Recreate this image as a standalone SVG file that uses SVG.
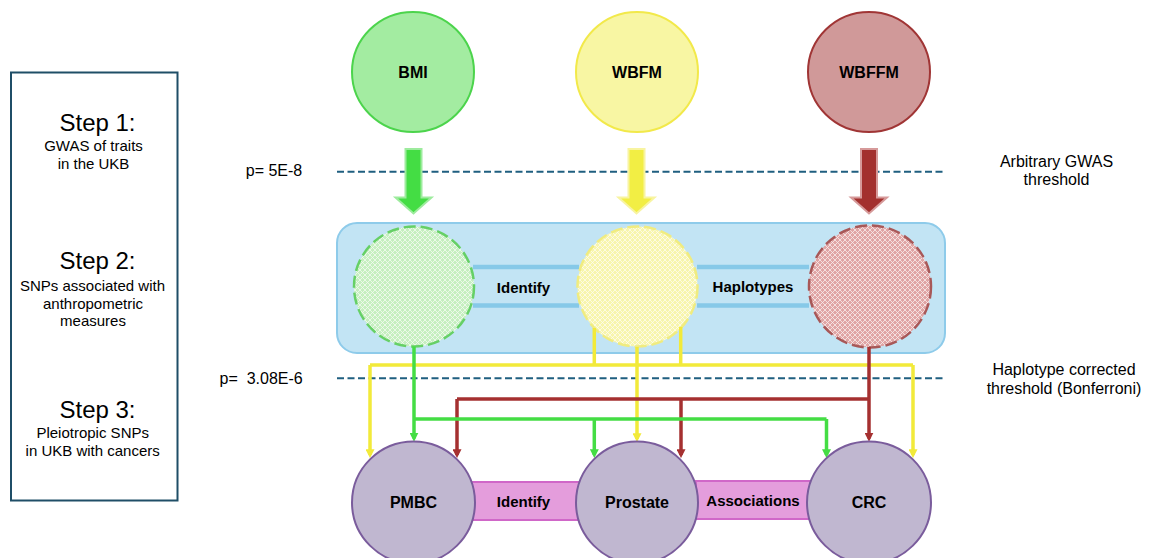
<svg xmlns="http://www.w3.org/2000/svg" width="1159" height="558" viewBox="0 0 1159 558">
<style>
text{font-family:"Liberation Sans",Arial,sans-serif;fill:#000}
.b{font-weight:bold;font-size:15px;text-anchor:middle}
.big{font-weight:bold;font-size:16px;text-anchor:middle}
.step{font-size:24px;text-anchor:middle}
.sm{font-size:15px;text-anchor:middle}
.lbl{font-size:16px;text-anchor:middle}
.thr{fill:none;stroke:#1f5f80;stroke-width:2;stroke-dasharray:7 3.5}
.cancer{fill:#c0b7d0;stroke:#7a5c9c;stroke-width:2}
.pink{fill:#e49ddc;stroke:#d067c8;stroke-width:2}
.bar{stroke:#86c9e8;stroke-width:4.5}
.cg{fill:none;stroke:#44dd44;stroke-width:3.5}
.cy{fill:none;stroke:#f2ea3a;stroke-width:3.5}
.cr{fill:none;stroke:#a53030;stroke-width:3.5}
</style>
<defs>
<pattern id="hg" width="5" height="5" patternUnits="userSpaceOnUse">
<rect width="5" height="5" fill="#c6efc0"/>
<path d="M0,0 L5,5 M5,0 L0,5" stroke="#ffffff" stroke-width="0.8" opacity="0.8"/>
</pattern>
<pattern id="hy" width="5" height="5" patternUnits="userSpaceOnUse">
<rect width="5" height="5" fill="#f8f5ad"/>
<path d="M0,0 L5,5 M5,0 L0,5" stroke="#ffffff" stroke-width="0.8" opacity="0.8"/>
</pattern>
<pattern id="hr" width="5" height="5" patternUnits="userSpaceOnUse">
<rect width="5" height="5" fill="#e0a5a5"/>
<path d="M0,0 L5,5 M5,0 L0,5" stroke="#ffffff" stroke-width="0.8" opacity="0.8"/>
</pattern>
<marker id="ag" viewBox="0 0 10 10" refX="6.5" refY="5" markerWidth="9" markerHeight="9" markerUnits="userSpaceOnUse" orient="auto"><path d="M0,0 L10,5 L0,10 z" fill="#44dd44"/></marker>
<marker id="ay" viewBox="0 0 10 10" refX="6.5" refY="5" markerWidth="9" markerHeight="9" markerUnits="userSpaceOnUse" orient="auto"><path d="M0,0 L10,5 L0,10 z" fill="#f2ea3a"/></marker>
<marker id="ar" viewBox="0 0 10 10" refX="6.5" refY="5" markerWidth="9" markerHeight="9" markerUnits="userSpaceOnUse" orient="auto"><path d="M0,0 L10,5 L0,10 z" fill="#a53030"/></marker>
</defs>

<g id="steps">
<rect x="11" y="72.5" width="166.5" height="428" fill="none" stroke="#1f4e67" stroke-width="2"/>
<text class="step" x="97.5" y="131">Step 1:</text>
<text class="sm" x="93.5" y="151">GWAS of traits</text>
<text class="sm" x="93.5" y="168.5">in the UKB</text>
<text class="step" x="97.5" y="269">Step 2:</text>
<text class="sm" x="92.5" y="291">SNPs associated with</text>
<text class="sm" x="93" y="308.5">anthropometric</text>
<text class="sm" x="93" y="326">measures</text>
<text class="step" x="97.5" y="417.5">Step 3:</text>
<text class="sm" x="92.7" y="438">Pleiotropic SNPs</text>
<text class="sm" x="92.7" y="456">in UKB with cancers</text>
</g>

<g id="thresholds">
<line class="thr" x1="337" y1="171.7" x2="945" y2="171.7"/>
<line class="thr" x1="337" y1="378.3" x2="945" y2="378.3"/>
<text class="lbl" x="274" y="176" style="font-size:16px">p= 5E-8</text>
<text x="219.5" y="383.5" style="font-size:16px" xml:space="preserve">p=  3.08E-6</text>
<text class="lbl" x="1056.5" y="167">Arbitrary GWAS</text>
<text class="lbl" x="1056.5" y="185">threshold</text>
<text class="lbl" x="1064" y="375">Haplotype corrected</text>
<text class="lbl" x="1064" y="393.5">threshold (Bonferroni)</text>
</g>

<g id="trait-bmi">
<ellipse cx="413" cy="72" rx="61" ry="60" fill="#a3eca1" stroke="#4cd44c" stroke-width="2"/>
<text class="big" x="413" y="78">BMI</text>
</g>
<g id="trait-wbfm">
<ellipse cx="637" cy="72" rx="61" ry="60" fill="#f8f6a3" stroke="#f2e94a" stroke-width="2"/>
<text class="big" x="637" y="78">WBFM</text>
</g>
<g id="trait-wbffm">
<ellipse cx="869" cy="72" rx="61" ry="60" fill="#d09999" stroke="#a03535" stroke-width="2"/>
<text class="big" x="869" y="78">WBFFM</text>
</g>

<g id="gwas-arrows">
<path d="M405.5,149 H421.5 V197.5 H431.5 L413.5,213.5 L395.5,197.5 H405.5 Z" fill="#44dd44" stroke="#9deb9d" stroke-width="2"/>
<path d="M628.5,149 H644.5 V197.5 H654.5 L636.5,213.5 L618.5,197.5 H628.5 Z" fill="#f2ee44" stroke="#f8f4a0" stroke-width="2"/>
<path d="M861,149 H877 V197.5 H887 L869,213.5 L851,197.5 H861 Z" fill="#a3302e" stroke="#d69a9a" stroke-width="2"/>
</g>

<g id="snp-panel">
<rect x="337" y="223" width="608" height="130" rx="20" ry="20" fill="#c2e4f4" stroke="#8ecbea" stroke-width="2"/>
<line class="bar" x1="473" y1="267" x2="579" y2="267"/>
<line class="bar" x1="473" y1="305.5" x2="579" y2="305.5"/>
<line class="bar" x1="697" y1="267" x2="809" y2="267"/>
<line class="bar" x1="697" y1="305.5" x2="809" y2="305.5"/>
<text class="b" x="523.5" y="292.5">Identify</text>
<text class="b" x="753" y="291.5">Haplotypes</text>
</g>
<g id="snp-bmi">
<circle cx="414" cy="286.5" r="60" fill="url(#hg)" stroke="#66d066" stroke-width="2.5" stroke-dasharray="12 5"/>
</g>
<g id="snp-wbfm">
<circle cx="637.5" cy="286.5" r="60" fill="url(#hy)" stroke="#f0ec80" stroke-width="2.5" stroke-dasharray="12 5"/>
</g>
<g id="snp-wbffm">
<circle cx="870" cy="286.5" r="61" fill="url(#hr)" stroke="#a85858" stroke-width="2.5" stroke-dasharray="12 5"/>
</g>

<g id="connectors">
<path class="cy" d="M594.3,328 V365 M680.7,327 V365 M370,365 H913"/>
<path class="cy" d="M370,365 V455" marker-end="url(#ay)"/>
<path class="cy" d="M913,365 V455" marker-end="url(#ay)"/>
<path class="cy" d="M637,347 V439" marker-end="url(#ay)"/>
<path class="cr" d="M457,399 H869"/>
<path class="cr" d="M869,347 V438.5" marker-end="url(#ar)"/>
<path class="cr" d="M457,399 V455" marker-end="url(#ar)"/>
<path class="cr" d="M681,399 V455" marker-end="url(#ar)"/>
<path class="cg" d="M414,419 H826.5"/>
<path class="cg" d="M414,346.5 V438.5" marker-end="url(#ag)"/>
<path class="cg" d="M594.3,419 V455" marker-end="url(#ag)"/>
<path class="cg" d="M826.5,419 V455" marker-end="url(#ag)"/>
</g>

<g id="links">
<rect class="pink" x="472" y="482" width="108" height="38"/>
<text class="b" x="523.5" y="507">Identify</text>
<rect class="pink" x="696" y="481" width="114" height="38"/>
<text class="b" x="753" y="506">Associations</text>
</g>
<g id="cancer-pmbc">
<ellipse class="cancer" cx="413.5" cy="502.5" rx="61.5" ry="61"/>
<text class="big" x="413.5" y="508">PMBC</text>
</g>
<g id="cancer-prostate">
<ellipse class="cancer" cx="637" cy="502.5" rx="61" ry="61"/>
<text class="big" x="637" y="508">Prostate</text>
</g>
<g id="cancer-crc">
<ellipse class="cancer" cx="869" cy="502.5" rx="62" ry="61"/>
<text class="big" x="869" y="508">CRC</text>
</g>
</svg>
